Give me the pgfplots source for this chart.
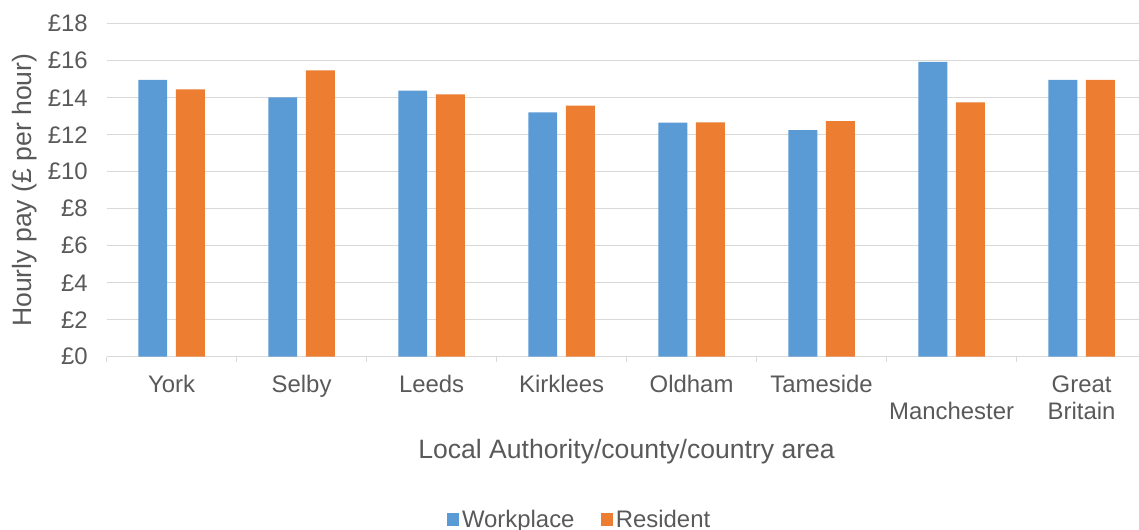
\documentclass[border=0pt]{standalone}
\usepackage{fontspec}
\setmainfont{Liberation Sans}
\usepackage{pgfplots}
\pgfplotsset{compat=1.18}
\definecolor{wblue}{HTML}{5B9BD5}
\definecolor{rorange}{HTML}{ED7D31}
\definecolor{txt}{HTML}{595959}
\definecolor{gridc}{HTML}{D9D9D9}
\begin{document}
\begin{tikzpicture}
\useasboundingbox (0,0) rectangle (854.25bp,397.5bp);
\begin{axis}[
  at={(79.95bp,129.975bp)}, anchor=south west,
  scale only axis, width=780bp, height=249.75bp,
  xmin=-0.5, xmax=7.5, ymin=0, ymax=18,
  ybar, bar width=0.223,
  ytick={0,2,...,18},
  yticklabels={£0,£2,£4,£6,£8,£10,£12,£14,£16,£18},
  xtick={0,...,7},
  xticklabels={\strut York,\strut Selby,\strut Leeds,\strut Kirklees,\strut Oldham,\strut Tameside,\strut\\Manchester,\strut Great\\Britain},
  minor xtick={-0.5,0.5,...,7.5},
  major tick length=0pt, minor tick length=4.3bp,
  tick align=outside,
  axis lines*=left,
  axis line style={-, draw=gridc, line width=1.1bp},
  y axis line style={draw=none},
  minor tick style={draw=gridc, line width=1.1bp},
  ymajorgrids, grid style={draw=gridc, line width=1.1bp},
  xticklabel style={font=\fontsize{18}{20.25}\selectfont, text=txt, align=center, anchor=north, inner sep=0pt, yshift=-12.8bp},
  yticklabel style={font=\fontsize{18}{20.25}\selectfont, text=txt, anchor=east, inner sep=0pt, xshift=-14bp},
  xlabel={Local Authority/county/country area},
  xlabel style={font=\fontsize{20}{24}\selectfont, text=txt, at={(axis description cs:0.5,-0.306)}, anchor=base, inner sep=0pt},
  ylabel={Hourly pay (£ per hour)},
  ylabel style={font=\fontsize{20}{24}\selectfont, text=txt, at={(axis description cs:-0.072,0.5)}, anchor=base, inner sep=0pt},
  legend style={at={(axis description cs:0.455,-0.489)}, anchor=center, draw=none, fill=none,
    legend columns=2, font=\fontsize{18}{20.25}\selectfont, text=txt,
    /tikz/every even column/.append style={column sep=17.5bp}},
]
\addplot[fill=wblue, draw=none, bar shift=-0.145,
  legend image code/.code={\fill[wblue] (0bp,-4.75bp) rectangle (9.5bp,4.75bp);}]
  coordinates {(0,14.96) (1,14.02) (2,14.38) (3,13.21) (4,12.65) (5,12.25) (6,15.93) (7,14.96)};
\addlegendentry{Workplace}
\addplot[fill=rorange, draw=none, bar shift=0.145,
  legend image code/.code={\fill[rorange] (0bp,-4.75bp) rectangle (9.5bp,4.75bp);}]
  coordinates {(0,14.45) (1,15.48) (2,14.18) (3,13.57) (4,12.67) (5,12.74) (6,13.75) (7,14.96)};
\addlegendentry{Resident}
\end{axis}
\end{tikzpicture}
\end{document}
